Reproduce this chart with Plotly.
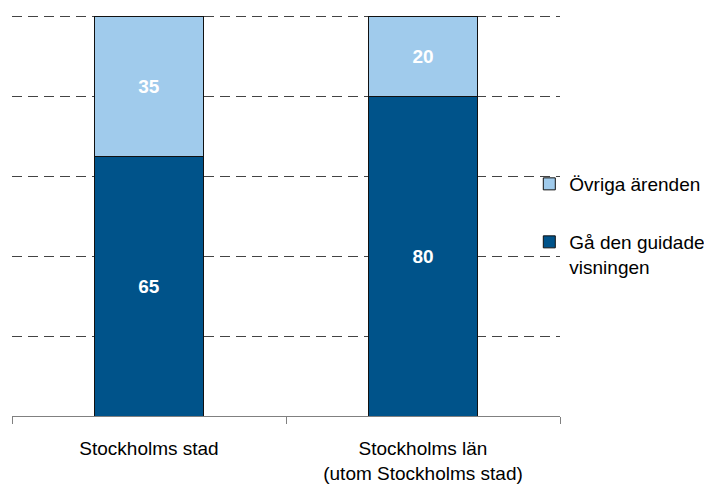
import plotly.graph_objects as go

categories = ["Stockholms stad", "Stockholms län<br>(utom Stockholms stad)"]
guidade = [65, 80]
ovriga = [35, 20]
series_names = ["Gå den guidade<br>visningen", "Övriga ärenden"]
y_ticks = [0, 20, 40, 60, 80, 100]

dark = "#00538A"
light = "#A0CBEC"
font_family = "Liberation Sans, Arial, sans-serif"

# plot area in figure pixels (page body adds an 8px offset)
L, T, R, B = 4, 7, 160, 76
W, H = 712, 484
plot_h = H - T - B

fig = go.Figure()
fig.add_trace(go.Bar(
    x=categories, y=guidade, name=series_names[0],
    marker=dict(color=dark, line=dict(color="#111111", width=1)),
    text=[str(v) for v in guidade], textposition="inside", insidetextanchor="middle",
    textfont=dict(color="white", size=19, family=font_family, weight="bold"),
    width=0.4, legend="legend2",
))
fig.add_trace(go.Bar(
    x=categories, y=ovriga, name=series_names[1],
    marker=dict(color=light, line=dict(color="#111111", width=1)),
    text=[str(v) for v in ovriga], textposition="inside", insidetextanchor="middle",
    textfont=dict(color="white", size=19, family=font_family, weight="bold"),
    width=0.4, legend="legend",
))

fig.update_layout(
    barmode="stack",
    width=W, height=H,
    margin=dict(l=L, r=R, t=T, b=B),
    plot_bgcolor="white", paper_bgcolor="white",
    font=dict(family=font_family, size=19, color="#000000"),
    showlegend=True,
    legend=dict(x=0.944, y=(H - B - 157) / plot_h, xref="paper", yref="paper",
                xanchor="left", yanchor="top", itemwidth=30,
                font=dict(size=19, family=font_family), bgcolor="rgba(0,0,0,0)", valign="top"),
    legend2=dict(x=0.944, y=(H - B - 215) / plot_h, xref="paper", yref="paper",
                 xanchor="left", yanchor="top", itemwidth=30,
                 font=dict(size=19, family=font_family), bgcolor="rgba(0,0,0,0)", valign="top"),
    uniformtext=dict(mode=False),
)

fig.update_xaxes(
    showline=True, linecolor="#808080", linewidth=1,
    ticks="outside", tickson="boundaries", ticklen=7, tickcolor="#808080",
    showgrid=False, tickfont=dict(size=19, family=font_family),
    ticklabelstandoff=15,
    range=[-0.5, 1.5],
)
fig.update_yaxes(
    range=[0, 100.3], tickvals=y_ticks, showticklabels=False,
    showgrid=True, gridcolor="#444444", griddash="10px,6px", gridwidth=1,
    zeroline=False, showline=False,
)

fig.write_html("out.html")
